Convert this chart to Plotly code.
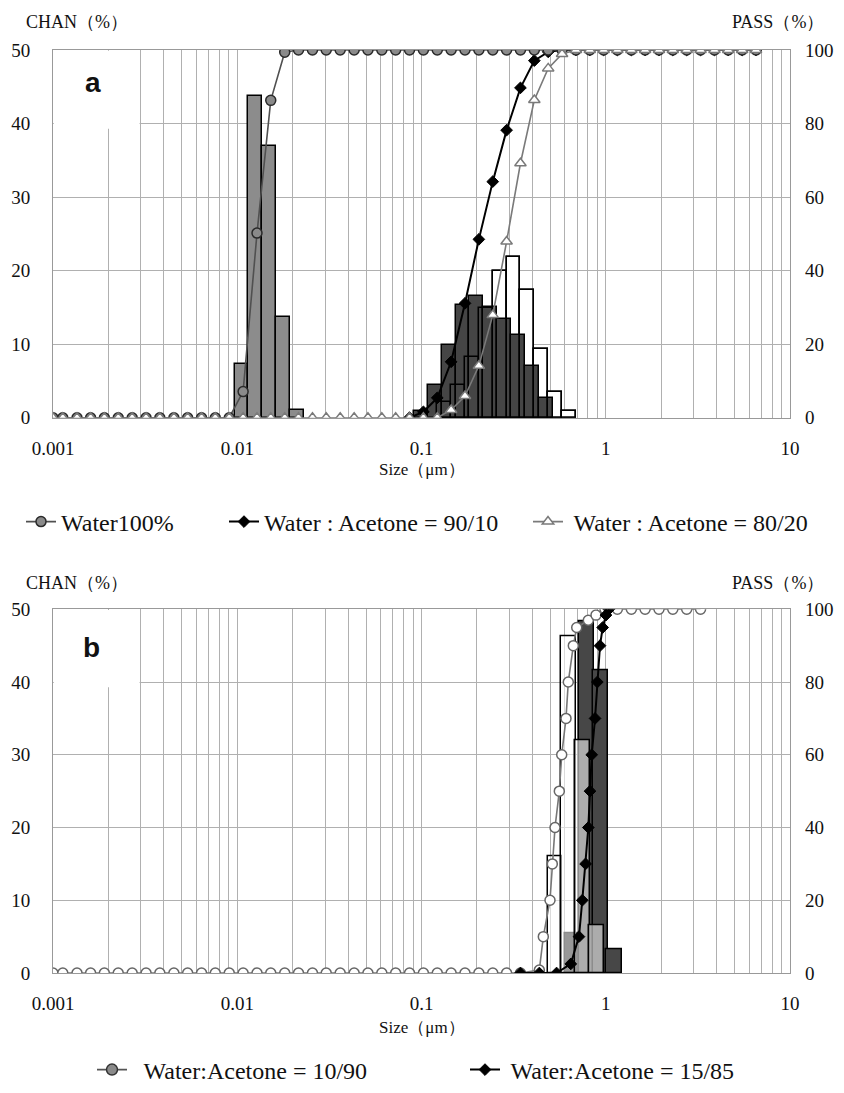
import plotly.graph_objects as go

# ---------------- data ----------------
# channel sizes (um) used for the cumulative curves of panel a
SIZE_A = [0.001, 0.00113, 0.00135, 0.0016, 0.0019, 0.00226, 0.00269, 0.0032, 0.0038,
          0.00453, 0.00538, 0.0064, 0.0076, 0.00905, 0.01076, 0.0128, 0.0152, 0.0181,
          0.0215, 0.0256, 0.0304, 0.0362, 0.0431, 0.0512, 0.0609, 0.0724, 0.0861,
          0.1024, 0.1218, 0.1448, 0.1722, 0.2048, 0.2436, 0.2896, 0.3444, 0.4096,
          0.4871, 0.5793, 0.6889, 0.8192, 0.9742, 1.156, 1.377, 1.635, 1.945, 2.312,
          2.75, 3.27, 3.89, 4.62, 5.5, 6.54]

PASS_WATER = [0] * 14 + [7.1, 50.2, 86.3, 99.4] + [100] * 34
SIZE_9010 = SIZE_A[26:]
PASS_9010 = [0, 1.6, 5.4, 15.2, 31.1, 48.5, 64.2, 78.2, 89.7, 97.1, 99.5] + [100] * 15
PASS_8020 = [0] * 29 + [2.1, 5.9, 14.1, 27.9, 47.9, 69.2, 86.4, 95.0, 98.9] + [100] * 14

BAR_WATER_X = [0.01076, 0.0128, 0.0152, 0.0181, 0.0215]
BAR_WATER_Y = [7.3, 43.8, 37.0, 13.7, 1.0]
BAR_9010_X = [0.1024, 0.1218, 0.1448, 0.1722, 0.2048, 0.2436, 0.2896, 0.3444, 0.4096, 0.4871]
BAR_9010_Y = [0.9, 4.4, 9.9, 15.3, 16.6, 15.1, 13.4, 11.2, 7.0, 2.7]
BAR_8020_X = [0.1448, 0.1722, 0.2048, 0.2436, 0.2896, 0.3444, 0.4096, 0.4871, 0.5793, 0.6889]
BAR_8020_Y = [2.2, 4.4, 8.3, 14.9, 20.0, 21.9, 17.3, 9.4, 3.5, 0.9]

# panel b
SIZE_1090 = SIZE_A[:35] + [0.4360, 0.4583, 0.4982, 0.5128, 0.5304, 0.5597, 0.5767, 0.6085,
                           0.6262, 0.6668, 0.6957, 0.8043, 0.8853, 0.9906, 1.156, 1.377,
                           1.635, 1.945, 2.312, 2.75, 3.27]
PASS_1090 = [0] * 35 + [0.8, 10, 20, 30, 40, 50, 60, 70, 80, 90, 95, 97, 98.4, 100,
                        100, 100, 100, 100, 100, 100, 100]
SIZE_1585 = [0.3444, 0.4360, 0.5409, 0.6461, 0.7156, 0.7460, 0.7774, 0.8043, 0.8214,
             0.8392, 0.8747, 0.9001, 0.9307, 0.9622, 1.0029, 1.04]
PASS_1585 = [0, 0, 0, 2.5, 10, 20, 30, 40, 50, 60, 70, 80, 90, 95, 98.4, 100]

BAR_1090_X = [0.5793, 0.6889, 0.8192, 0.9742]
BAR_1090_Y = [16.1, 46.3, 32.0, 6.5]
BAR_1585_X = [0.6889, 0.8192, 0.9742, 1.156]
BAR_1585_Y = [5.4, 48.3, 41.6, 3.3]

TICK_X = [0.001, 0.01, 0.1, 1, 10]
TICK_X_TEXT = ["0.001", "0.01", "0.1", "1", "10"]
TICK_CHAN = [0, 10, 20, 30, 40, 50]
TICK_PASS = [0, 20, 40, 60, 80, 100]

NAMES_A = ["Water100%", "Water : Acetone = 90/10", " Water : Acetone = 80/20"]
NAMES_B = ["  Water:Acetone = 10/90", " Water:Acetone = 15/85"]

# ---------------- layout helpers ----------------
W, H = 844, 1093
R = 2 ** 0.25  # channel ratio


def px(x):
    return x / W


def py(y):
    return 1 - y / H


SERIF = "Liberation Serif"


def bar(xs, ys, lo, hi, fill, xa, ya, line_w=1.5):
    offs = [x * R ** lo - x for x in xs]
    wids = [x * R ** hi - x * R ** lo for x in xs]
    return go.Bar(x=xs, y=ys, offset=offs, width=wids, xaxis=xa, yaxis=ya,
                  marker=dict(color=fill, line=dict(color="black", width=line_w)),
                  showlegend=False, hoverinfo="skip")


fig = go.Figure()

# ---- panel a bars ----
fig.add_trace(bar(BAR_8020_X, BAR_8020_Y, -1.0, 0.0, "white", "x", "y"))
fig.add_trace(bar(BAR_9010_X, BAR_9010_Y, -0.68, 0.32, "#454545", "x", "y"))
fig.add_trace(bar(BAR_WATER_X, BAR_WATER_Y, -0.62, 0.38, "#8c8c8c", "x", "y"))
fig.add_trace(bar(BAR_8020_X, BAR_8020_Y, -1.0, 0.0, "rgba(0,0,0,0)", "x", "y"))

# ---- panel a lines ----
fig.add_trace(go.Scatter(x=SIZE_9010, y=PASS_9010, xaxis="x", yaxis="y2", name=NAMES_A[1],
                         mode="lines+markers", legend="legend2",
                         line=dict(color="black", width=2),
                         marker=dict(symbol="diamond", size=9, color="black",
                                     line=dict(color="black", width=1))))
fig.add_trace(go.Scatter(x=SIZE_A, y=PASS_WATER, xaxis="x", yaxis="y2", name=NAMES_A[0],
                         mode="lines+markers", legend="legend",
                         line=dict(color="#505050", width=1.6),
                         marker=dict(symbol="circle", size=10, color="#8a8a8a",
                                     line=dict(color="#2a2a2a", width=1.5))))
fig.add_trace(go.Scatter(x=SIZE_A, y=PASS_8020, xaxis="x", yaxis="y2", name=NAMES_A[2],
                         mode="lines+markers", legend="legend3",
                         line=dict(color="#7a7a7a", width=1.6),
                         marker=dict(symbol="triangle-up", size=10, color="white",
                                     line=dict(color="#7a7a7a", width=1.5))))

# ---- panel b bars ----
fig.add_trace(bar(BAR_1585_X, BAR_1585_Y, -0.8, 0.3,
                  ["#1c1c1c", "#474747", "#474747", "#474747"], "x2", "y3"))
fig.add_trace(bar(BAR_1090_X, BAR_1090_Y, -1.05, 0.0, "rgba(255,255,255,0.55)", "x2", "y3"))

# ---- panel b lines ----
fig.add_trace(go.Scatter(x=SIZE_1090, y=PASS_1090, xaxis="x2", yaxis="y4", name=NAMES_B[0],
                         mode="lines+markers", showlegend=False,
                         line=dict(color="#777777", width=1.6),
                         marker=dict(symbol="circle", size=10, color="white",
                                     line=dict(color="#666666", width=1.5))))
# legend entry for the 10/90 series (shown with the grey-filled symbol of the original key)
fig.add_trace(go.Scatter(x=[None], y=[None], xaxis="x2", yaxis="y4", name=NAMES_B[0],
                         mode="lines+markers", legend="legend4", hoverinfo="skip",
                         line=dict(color="#555555", width=1.6),
                         marker=dict(symbol="circle", size=11, color="#8a8a8a",
                                     line=dict(color="#333333", width=1.5))))
fig.add_trace(go.Scatter(x=SIZE_1585, y=PASS_1585, xaxis="x2", yaxis="y4", name=NAMES_B[1],
                         mode="lines+markers", legend="legend5",
                         line=dict(color="black", width=2),
                         marker=dict(symbol="diamond", size=9, color="black",
                                     line=dict(color="black", width=1))))

GRID = "#b0b0b0"
MINOR = [m * d for d in (0.001, 0.01, 0.1, 1) for m in range(2, 10)]
XDOM = [px(53), px(790)]
DOM_A = [py(417.7), py(50)]
DOM_B = [py(973), py(609.3)]
tickfont = dict(family=SERIF, size=19, color="#111111")


def xaxis_def(anchor):
    return dict(type="log", range=[-3, 1], domain=XDOM, anchor=anchor, automargin=False,
                tickvals=TICK_X, ticktext=TICK_X_TEXT, tickfont=tickfont,
                showgrid=True, gridcolor=GRID, gridwidth=1,
                minor=dict(tickvals=MINOR, showgrid=True, gridcolor=GRID, gridwidth=1, ticks=""),
                showline=True, linecolor="#999999", linewidth=1, mirror=True,
                ticks="", ticklabelstandoff=13, zeroline=False)


def yleft(dom, anchor):
    return dict(range=[0, 50], domain=dom, anchor=anchor, tickvals=TICK_CHAN, automargin=False,
                tickfont=tickfont, showgrid=True, gridcolor=GRID, gridwidth=1,
                showline=True, linecolor="#999999", linewidth=1, mirror=True,
                ticks="", ticklabelstandoff=18, zeroline=False)


def yright(over, anchor):
    return dict(range=[0, 100], overlaying=over, anchor=anchor, side="right", automargin=False,
                tickvals=TICK_PASS, tickfont=tickfont, showgrid=False,
                ticks="", ticklabelstandoff=14, zeroline=False, showline=False)


LEGFONT = dict(family=SERIF, size=24, color="#111111")


def legend_at(x, y):
    return dict(x=px(x), y=py(y), xanchor="left", yanchor="middle",
                bgcolor="rgba(0,0,0,0)", font=LEGFONT,
                itemclick=False, borderwidth=0)


annotations = []


def text(x, y, s, size=18, anchor="left", family=SERIF):
    annotations.append(dict(x=px(x), y=py(y), xref="paper", yref="paper", text=s,
                            showarrow=False, xanchor=anchor, yanchor="middle",
                            font=dict(family=family, size=size, color="#111111")))


for top in (22, 583):
    text(24, top, "CHAN（%）")
    text(826, top, "PASS（%）", anchor="right")
text(422, 469, "Size（μm）", size=17, anchor="center")
text(422, 1027, "Size（μm）", size=17, anchor="center")
text(93, 82, "<b>a</b>", size=28, anchor="center", family="Liberation Sans")
text(91, 647, "<b>b</b>", size=28, anchor="center", family="Liberation Sans")

shapes = [
    dict(type="rect", xref="x", yref="y", x0=0.00101, x1=0.00295, y0=39.3, y1=49.9,
         fillcolor="white", line=dict(width=0), layer="between"),
    dict(type="rect", xref="x2", yref="y3", x0=0.00101, x1=0.00295, y0=39.3, y1=49.9,
         fillcolor="white", line=dict(width=0), layer="between"),
]

fig.update_layout(
    width=W, height=H, margin=dict(l=0, r=0, t=0, b=0),
    font=dict(family=SERIF, size=18, color="#111111"),
    paper_bgcolor="white", plot_bgcolor="white", barmode="overlay", bargap=0,
    xaxis=xaxis_def("y"), yaxis=yleft(DOM_A, "x"), yaxis2=yright("y", "x"),
    xaxis2=xaxis_def("y3"), yaxis3=yleft(DOM_B, "x2"), yaxis4=yright("y3", "x2"),
    legend=legend_at(21, 522), legend2=legend_at(224, 522), legend3=legend_at(528, 522),
    legend4=legend_at(92, 1070), legend5=legend_at(465, 1070),
    annotations=annotations, shapes=shapes, showlegend=True,
)

fig.write_html("out.html")
